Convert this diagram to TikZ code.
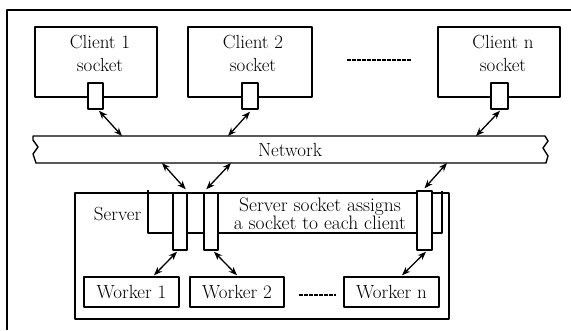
\documentclass[tikz,border=0pt]{standalone}
\usetikzlibrary{arrows.meta}
\begin{document}
\begin{tikzpicture}[x=1pt,y=-1pt, line width=1.4pt, line join=round,
  box/.style={draw, rectangle, inner sep=0pt},
  lbl/.style={font=\fontsize{19}{23}\selectfont, align=center, inner sep=0pt},
  arr/.style={{Stealth[length=8.5pt,width=6.5pt]}-{Stealth[length=8.5pt,width=6.5pt]}, line width=1.3pt},
]
\useasboundingbox (0,0) rectangle (571,330);
% outer frame (cropped)
\draw (7,330) -- (7,10) -- (571,10);

% clients
\node[box, minimum width=122pt, minimum height=70pt] (c1) at (96,62) {};
\node[box, minimum width=124pt, minimum height=70pt] (c2) at (250,62) {};
\node[box, minimum width=122pt, minimum height=70pt] (cn) at (499,62) {};
\node[lbl] (c1t) at (100,53) {Client 1\\socket};
\node[lbl] (c2t) at (253,53) {Client 2\\socket};
\node[lbl] (cnt) at (503,53) {Client n\\socket};
\draw[dashed, dash pattern=on 3.5pt off 1.5pt] (347,60) -- (412,60);

% client sockets
\node[box, fill=white, minimum width=15pt, minimum height=26pt] (s1) at (95.5,96) {};
\node[box, fill=white, minimum width=16pt, minimum height=26pt] (s2) at (250,96) {};
\node[box, fill=white, minimum width=17pt, minimum height=26pt] (sn) at (499.5,96) {};

% network band
\draw[fill=white] (33,136) -- (545,136) -- (548,141) -- (543,148) -- (548,156) -- (546,163)
  -- (36,163) -- (33,154) -- (38,147) -- (33,140) -- cycle;
\node[lbl] (net) at (290,150) {Network};
\coordinate (n1) at (122,136);
\coordinate (n2) at (228,136);
\coordinate (n3) at (476,136);
\coordinate (m1) at (162,163);
\coordinate (m2) at (231,163);
\coordinate (m3) at (447,163);

\draw[arr] ([shift={(3.5,1)}]s1.south) -- (n1);
\draw[arr] ([shift={(0,2)}]s2.south) -- (n2);
\draw[arr] ([shift={(0.5,1)}]sn.south) -- (n3);

% server
\node[box, minimum width=374pt, minimum height=126pt] (srv) at (262,256) {};
\draw (148,190) -- (148,233) -- (442,233) -- (442,191);
\node[lbl, anchor=east] (srvt) at (142,214) {Server};
\node[lbl, font=\fontsize{19.5}{18}\selectfont] (sst) at (320,214) {Server socket assigns\\a socket to each client};

% server sockets
\node[box, fill=white, minimum width=14pt, minimum height=57pt] (k1) at (180,221.5) {};
\node[box, fill=white, minimum width=14pt, minimum height=57pt] (k2) at (211,221.5) {};
\node[box, fill=white, minimum width=15pt, minimum height=59pt] (kn) at (424.5,220.5) {};

\draw[arr] (m1) -- ([shift={(-2,-3)}]k1.north east);
\draw[arr] (m2) -- ([shift={(3,-3)}]k2.north west);
\draw[arr] (m3) -- ([shift={(0,-2)}]kn.north);

% workers
\node[box, minimum width=95pt, minimum height=30pt, lbl, draw] (w1) at (131.5,292) {Worker 1};
\node[box, minimum width=94pt, minimum height=30pt, lbl, draw] (w2) at (237,292) {Worker 2};
\node[box, minimum width=95pt, minimum height=30pt, lbl, draw] (wn) at (391.5,292) {Worker n};
\draw[dashed, dash pattern=on 3.5pt off 1.5pt] (299,295) -- (336,295);

\draw[arr] ([shift={(-3,1)}]k1.south) -- ([shift={(22.5,-1)}]w1.north);
\draw[arr] ([shift={(3,1)}]k2.south) -- ([shift={(0,-1)}]w2.north);
\draw[arr] ([shift={(1.5,1)}]kn.south) -- ([shift={(10.5,-1)}]wn.north);
\end{tikzpicture}
\end{document}
